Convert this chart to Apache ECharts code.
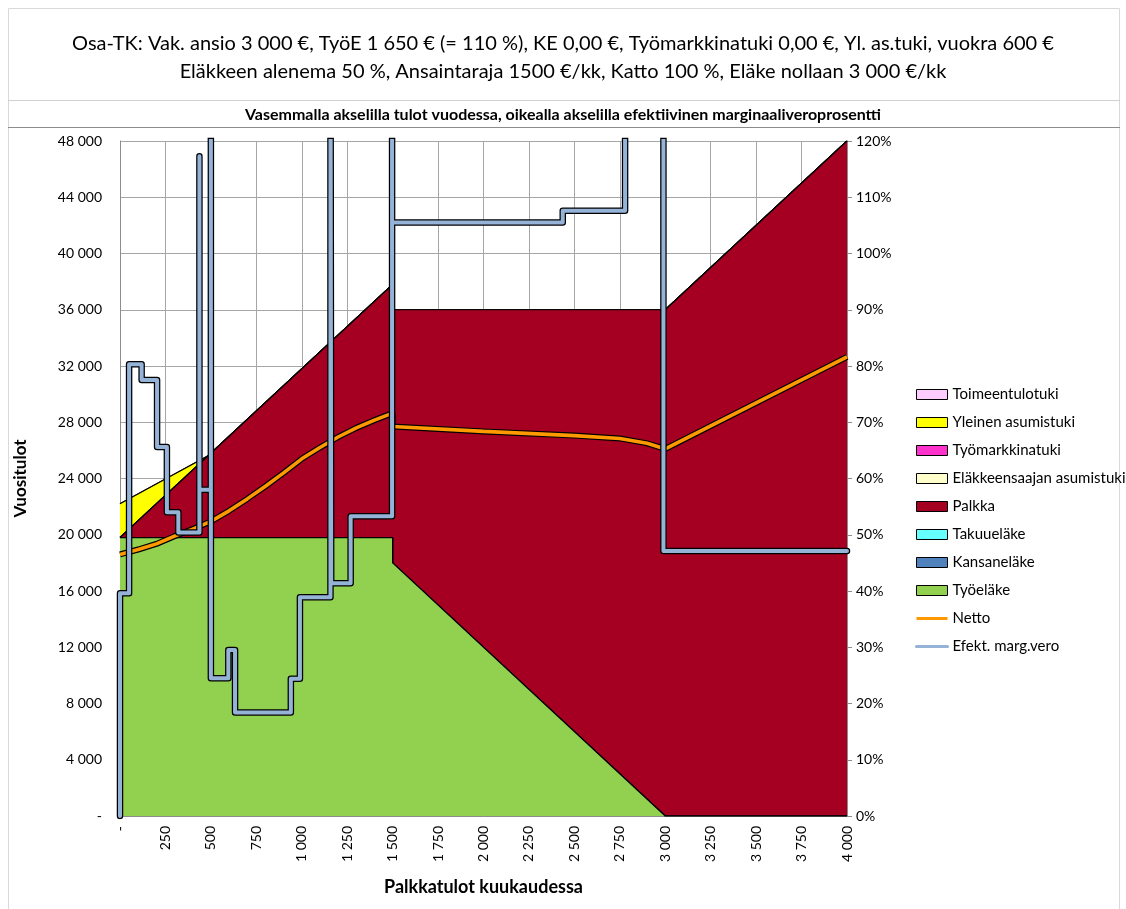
<!DOCTYPE html>
<html>
<head>
<meta charset="utf-8">
<title>Osa-TK</title>
<script src="https://cdn.jsdelivr.net/npm/echarts@6/dist/echarts.min.js"></script>
<style>
  html, body { margin: 0; padding: 0; background: #fff; }
  #chart { width: 1126px; height: 909px; }
</style>
</head>
<body>
<div id="chart"></div>
<script>
// palkkatulot kuukaudessa (x), pinotut alueet jakavat saman x-listan
const xPoints = [0, 485, 1500, 1500, 3000, 4000]
const tyoelake = [19800, 19800, 19800, 18000, 0, 0]
const kansanelake = [0, 0, 0, 0, 0, 0]
const takuuelake = [0, 0, 0, 0, 0, 0]
const palkka = [0, 5820, 18000, 18000, 36000, 48000]
const elakAsumistuki = [0, 0, 0, 0, 0, 0]
const tyomarkkinatuki = [0, 0, 0, 0, 0, 0]
const ylAsumistuki = [2400, 0, 0, 0, 0, 0]
const toimeentulotuki = [0, 0, 0, 0, 0, 0]

// netto vuodessa
const nettoX = [0, 100, 200, 300, 400, 500, 600, 700, 800, 900, 1000, 1100, 1200, 1300, 1400, 1500,
  1500, 2000, 2500, 2750, 2900, 3000, 4000]
const nettoY = [18600, 18950, 19350, 19900, 20400, 20950, 21700, 22550, 23450, 24400, 25400, 26200, 26950, 27600, 28150, 28650,
  27700, 27350, 27050, 26850, 26500, 26100, 32650]

// efektiivinen marginaalivero % (yli 120 % leikkautuu pois)
const margX = [0, 0, 50, 50, 119, 119, 204, 204, 258, 258, 321, 321, 437, 437, 437, 500, 500, 500,
  596, 596, 633, 633, 940, 940, 990, 990, 1158, 1158, 1162, 1269, 1269, 1497, 1497, 1497,
  2436, 2436, 2779, 2779, 2990, 2990, 4000]
const margY = [0, 39.6, 39.6, 80.3, 80.3, 77.5, 77.5, 65.6, 65.6, 54.0, 54.0, 50.4, 50.4, 117.3, 58.0, 58.0, 150, 24.5,
  24.5, 29.5, 29.5, 18.4, 18.4, 24.4, 24.4, 38.9, 38.9, 150, 41.4, 41.4, 53.3, 53.3, 150, 105.5,
  105.5, 107.6, 107.6, 150, 150, 47.1, 47.1]

const yTicksLeft = { min: 0, max: 48000, interval: 4000 }
const yTicksRight = { min: 0, max: 120, interval: 10 }
const xTicks = { min: 0, max: 4000, interval: 250 }

const font = 'Lato, "Open Sans", sans-serif'

function pairs (xs, ys) {
  return xs.map((x, i) => [x, ys[i]])
}

function thousands (v) {
  if (v === 0) return '-'
  return String(v).replace(/\B(?=(\d{3})+(?!\d))/g, ' ')
}

// alimmasta ylimpään
const areaDefs = [
  { name: 'Työeläke', data: tyoelake, color: '#92D050' },
  { name: 'Kansaneläke', data: kansanelake, color: '#4F81BD' },
  { name: 'Takuueläke', data: takuuelake, color: '#66FFFF' },
  { name: 'Palkka', data: palkka, color: '#A50021' },
  { name: 'Eläkkeensaajan asumistuki', data: elakAsumistuki, color: '#FFFFCC' },
  { name: 'Työmarkkinatuki', data: tyomarkkinatuki, color: '#FF33CC' },
  { name: 'Yleinen asumistuki', data: ylAsumistuki, color: '#FFFF00' },
  { name: 'Toimeentulotuki', data: toimeentulotuki, color: '#FFCCFF' }
]

const nettoColor = '#FF9900'
const margColor = '#95B3D7'

// kumulatiiviset summat -> pinon ylärajat, alin kerros piirretään päällimmäiseksi
let running = xPoints.map(() => 0)
const series = []
areaDefs.forEach((d, i) => {
  running = running.map((v, k) => v + d.data[k])
  series.push({
    name: d.name,
    type: 'line',
    symbol: 'none',
    data: pairs(xPoints, running),
    color: d.color,
    lineStyle: { color: '#000', width: 1.2 },
    areaStyle: { color: d.color, opacity: 1 },
    silent: true,
    z: 1 + (areaDefs.length - i) * 0.01
  })
})

series.push(
  {
    name: 'netto-reuna',
    type: 'line',
    symbol: 'none',
    data: pairs(nettoX, nettoY),
    lineStyle: { color: '#000', width: 6 },
    z: 3
  },
  {
    name: 'Netto',
    type: 'line',
    symbol: 'none',
    data: pairs(nettoX, nettoY),
    color: nettoColor,
    lineStyle: { color: nettoColor, width: 3.6 },
    z: 4
  },
  {
    name: 'marg-reuna',
    type: 'line',
    yAxisIndex: 1,
    symbol: 'none',
    data: pairs(margX, margY),
    lineStyle: { color: '#000', width: 6.5, cap: 'round', join: 'round' },
    z: 5
  },
  {
    name: 'Efekt. marg.vero',
    type: 'line',
    yAxisIndex: 1,
    symbol: 'none',
    data: pairs(margX, margY),
    color: margColor,
    lineStyle: { color: margColor, width: 4, cap: 'round', join: 'round' },
    z: 6
  }
)

const legendData = areaDefs.slice().reverse().map(d => ({
  name: d.name,
  icon: 'rect',
  itemStyle: { color: d.color, borderColor: '#000', borderWidth: 1 }
}))
legendData.push(
  { name: 'Netto', lineStyle: { color: nettoColor, width: 3 }, itemStyle: { opacity: 0 } },
  { name: 'Efekt. marg.vero', lineStyle: { color: margColor, width: 3 }, itemStyle: { opacity: 0 } }
)

const chart = echarts.init(document.getElementById('chart'), null, { renderer: 'canvas' })
chart.setOption({
  animation: false,
  backgroundColor: '#fff',
  textStyle: { fontFamily: font },
  title: [
    {
      text: 'Osa-TK: Vak. ansio 3 000 €, TyöE 1 650 € (= 110 %), KE 0,00 €, Työmarkkinatuki 0,00 €, Yl. as.tuki, vuokra 600 €\nEläkkeen alenema 50 %, Ansaintaraja 1500 €/kk, Katto 100 %, Eläke nollaan 3 000 €/kk',
      left: 'center',
      top: 25,
      textStyle: { fontFamily: font, fontSize: 20, fontWeight: 'normal', color: '#000', lineHeight: 28, align: 'center' }
    },
    {
      text: 'Vasemmalla akselilla tulot vuodessa, oikealla akselilla efektiivinen marginaaliveroprosentti',
      left: 'center',
      top: 101,
      textStyle: { fontFamily: font, fontSize: 16, fontWeight: 'bold', color: '#000', lineHeight: 18 }
    }
  ],
  graphic: [
    { type: 'rect', shape: { x: 8.5, y: 8.5, width: 1111, height: 910 }, style: { fill: null, stroke: '#D9D9D9', lineWidth: 1 }, silent: true },
    { type: 'line', shape: { x1: 8, y1: 100.5, x2: 1120, y2: 100.5 }, style: { stroke: '#D0D0D0', lineWidth: 1 }, silent: true },
    { type: 'line', shape: { x1: 8, y1: 127.5, x2: 1120, y2: 127.5 }, style: { stroke: '#8C8C8C', lineWidth: 1 }, silent: true }
  ],
  legend: {
    orient: 'vertical',
    left: 910,
    top: 382,
    itemWidth: 31,
    itemHeight: 10,
    itemGap: 13,
    textStyle: { fontFamily: font, fontSize: 15, color: '#000' },
    selectedMode: false,
    data: legendData
  },
  grid: { left: 120, right: 279, top: 141, bottom: 93, containLabel: false },
  xAxis: {
    type: 'value',
    min: xTicks.min,
    max: xTicks.max,
    interval: xTicks.interval,
    name: 'Palkkatulot kuukaudessa',
    nameLocation: 'middle',
    nameGap: 62,
    nameTextStyle: { fontFamily: font, fontSize: 18, fontWeight: 'bold', color: '#000' },
    axisLine: { onZero: false, lineStyle: { color: '#8C8C8C' } },
    axisTick: { show: false },
    axisLabel: { rotate: 90, margin: 10, fontSize: 14, color: '#000', formatter: thousands, showMinLabel: true, showMaxLabel: true },
    splitLine: { show: true, lineStyle: { color: '#A6A6A6', width: 1 } }
  },
  yAxis: [
    {
      type: 'value',
      min: yTicksLeft.min,
      max: yTicksLeft.max,
      interval: yTicksLeft.interval,
      name: 'Vuositulot',
      nameLocation: 'middle',
      nameGap: 91,
      nameTextStyle: { fontFamily: font, fontSize: 17, fontWeight: 'bold', color: '#000' },
      axisLine: { show: true, lineStyle: { color: '#8C8C8C' } },
      axisTick: { show: false },
      axisLabel: { margin: 18, fontSize: 14, color: '#000', formatter: thousands },
      splitLine: { show: true, lineStyle: { color: '#A6A6A6', width: 1 } }
    },
    {
      type: 'value',
      position: 'right',
      min: yTicksRight.min,
      max: yTicksRight.max,
      interval: yTicksRight.interval,
      axisLine: { show: true, lineStyle: { color: '#8C8C8C' } },
      axisTick: { show: true, length: 5, inside: false, lineStyle: { color: '#8C8C8C' } },
      axisLabel: { margin: 9, fontSize: 14, color: '#000', formatter: '{value}%' },
      splitLine: { show: false }
    }
  ],
  series: series
})
</script>
</body>
</html>
